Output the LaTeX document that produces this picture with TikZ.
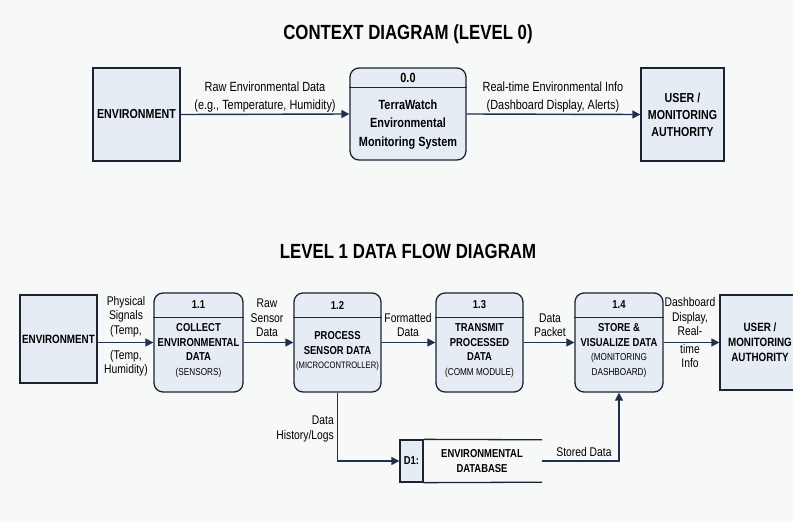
\documentclass[tikz,border=0pt]{standalone}
\usepackage{fontspec}
\setmainfont{Liberation Sans}[FakeStretch=0.82]
\usetikzlibrary{arrows.meta}
\definecolor{bgc}{RGB}{247,248,248}
\definecolor{boxf}{RGB}{230,236,243}
\definecolor{ink}{RGB}{28,36,52}
\definecolor{flow}{RGB}{30,48,78}
\tikzset{
  ext/.style={draw=ink, fill=boxf, line width=1.3pt, inner sep=0pt, align=center,
    font=\bfseries\fontsize{13}{17}\selectfont},
  extb/.style={draw=ink, fill=boxf, line width=1.3pt, inner sep=0pt, align=center,
    font=\bfseries\fontsize{12}{15}\selectfont},
  proc/.style={draw=ink, fill=boxf, line width=1.3pt, rounded corners=9pt, inner sep=0pt},
  hdr/.style={draw=ink, line width=1.3pt},
  arr/.style={draw=flow, line width=1.4pt, -{Triangle[length=8pt,width=8pt]}},
  lbl/.style={align=center, font=\fontsize{13.3}{17.5}\selectfont, inner sep=0pt},
  lbls/.style={align=center, font=\fontsize{12.6}{14.5}\selectfont, inner sep=0pt},
  bt/.style={align=center, font=\bfseries\fontsize{13.3}{18.5}\selectfont, inner sep=0pt},
  bts/.style={align=center, font=\bfseries\fontsize{11.5}{14.5}\selectfont, inner sep=0pt},
  ttl/.style={font=\bfseries\fontsize{20.5}{24}\selectfont, inner sep=0pt},
}
\newcommand{\regl}[1]{{\mdseries\fontsize{10}{14.5}\selectfont #1}}
\begin{document}
\begin{tikzpicture}[x=1pt,y=-1pt]
\clip (0,0) rectangle (793,522);
\fill[bgc] (0,0) rectangle (793,522);

% ---------- Context diagram ----------
\node[ttl] (t0) at (408,34) {CONTEXT DIAGRAM (LEVEL 0)};
\node[ext, minimum width=87pt, minimum height=93pt] (env0) at (136.5,114.5) {ENVIRONMENT};
\node[proc, minimum width=116pt, minimum height=92pt] (p0) at (408,114) {};
\draw[hdr] ([yshift=-20pt]p0.north west) -- ([yshift=-20pt]p0.north east);
\node[bt] (p0n) at (408,78) {0.0};
\node[bt] (p0b) at (408,124.5) {TerraWatch\\Environmental\\Monitoring System};
\node[ext, minimum width=83pt, minimum height=93pt] (usr0) at (682.5,114.5) {USER /\\MONITORING\\AUTHORITY};
\draw[arr] (env0.east) -- (p0.west);
\draw[arr] (p0.east) -- (usr0.west);
\node[lbl] (l01) at (265,97) {Raw Environmental Data\\(e.g., Temperature, Humidity)};
\node[lbl] (l02) at (553,97) {Real-time Environmental Info\\(Dashboard Display, Alerts)};

% ---------- Level 1 ----------
\node[ttl] (t1) at (408,251) {LEVEL 1 DATA FLOW DIAGRAM};
\node[extb, minimum width=77pt, minimum height=88pt] (env1) at (58.5,339) {ENVIRONMENT};
\node[proc, minimum width=89pt, minimum height=99pt] (p11) at (198.5,342.5) {};
\node[proc, minimum width=87pt, minimum height=99pt] (p12) at (337.5,342.5) {};
\node[proc, minimum width=87pt, minimum height=99pt] (p13) at (479.5,342.5) {};
\node[proc, minimum width=88pt, minimum height=99pt] (p14) at (619,342.5) {};
\foreach \p in {p11,p12,p13,p14}{
  \draw[hdr] ([yshift=-25pt]\p.north west) -- ([yshift=-25pt]\p.north east);
}
\node[extb, minimum width=80pt, minimum height=95pt] (usr1) at (760,342.5) {USER /\\MONITORING\\AUTHORITY};

\node[bts] (n11) at (198.5,305) {1.1};
\node[bts] (n12) at (337.5,305) {1.2};
\node[bts] (n13) at (479.5,305) {1.3};
\node[bts] (n14) at (619,305) {1.4};

\node[bts] (b11) at (198.5,350.5) {COLLECT\\ENVIRONMENTAL\\DATA\\\regl{(SENSORS)}};
\node[bts] (b12) at (337.5,351) {PROCESS\\SENSOR DATA\\{\mdseries\fontsize{9.3}{13}\selectfont (MICROCONTROLLER)}};
\node[bts] (b13) at (479.5,350.5) {TRANSMIT\\PROCESSED\\DATA\\\regl{(COMM MODULE)}};
\node[bts] (b14) at (619,350.5) {STORE \&\\VISUALIZE DATA\\\regl{(MONITORING}\\\regl{DASHBOARD)}};

% data store
\node[minimum width=142pt, minimum height=42pt, inner sep=0pt] (db) at (471,461) {};
\node[draw=ink, fill=boxf, line width=1.3pt, minimum width=23pt, minimum height=42pt, inner sep=0pt,
      font=\bfseries\fontsize{11.5}{14}\selectfont] (d1) at (411.5,461) {D1:};
\draw[hdr] (d1.north east) -- (db.north east);
\draw[hdr] (d1.south east) -- (db.south east);
\node[bts] (dbt) at (482,461) {ENVIRONMENTAL\\DATABASE};

% flows
\draw[arr] (p11.west -| env1.east) -- (p11.west);
\draw[arr] (p11.east) -- (p12.west);
\draw[arr] (p12.east) -- (p13.west);
\draw[arr] (p13.east) -- (p14.west);
\draw[arr] (p14.east) -- (p14.east -| usr1.west);
\draw[arr] (p12.south) |- (d1.west);
\draw[arr] (db.east) -| (p14.south);

% labels
\node[lbls, anchor=south] (lp1) at (126,337) {Physical\\Signals\\(Temp,};
\node[lbls, anchor=north] (lp2) at (126,350) {(Temp,\\Humidity)};
\node[lbls, anchor=south] (lr) at (267,337) {Raw\\Sensor\\Data};
\node[lbls, anchor=south] (lf) at (408,337) {Formatted\\Data};
\node[lbls, anchor=south] (ldp) at (550,337) {Data\\Packet};
\node[lbls, anchor=south] (ld1) at (690,336) {Dashboard\\Display,\\Real-};
\node[lbls, anchor=north] (ld2) at (690,344) {time\\Info};
\node[lbls, align=right, anchor=south east] (lh) at (334,442) {Data\\History/Logs};
\node[lbls, anchor=south] (ls) at (584,457) {Stored Data};
\end{tikzpicture}
\end{document}
